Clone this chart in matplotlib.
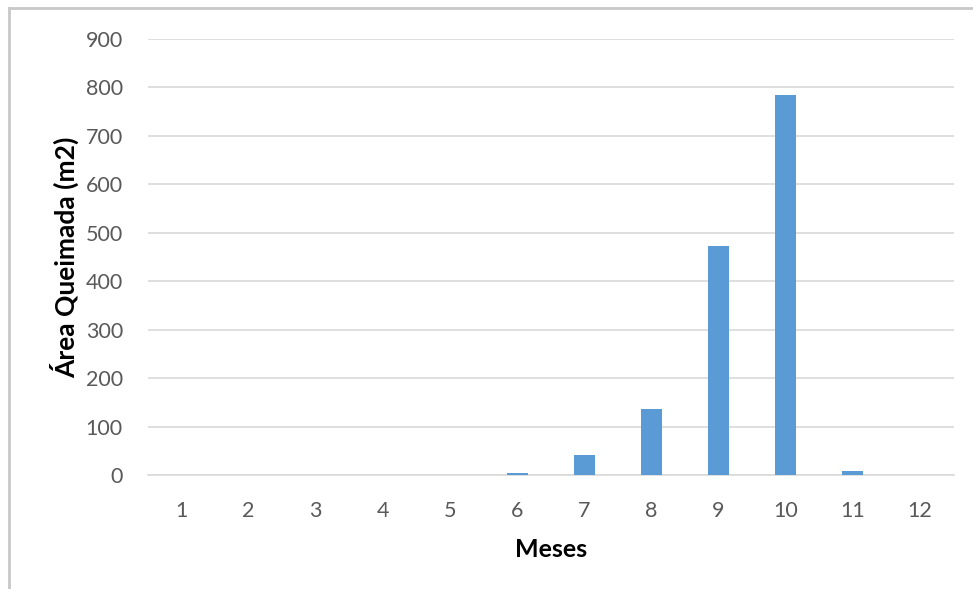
import matplotlib.pyplot as plt
from matplotlib.lines import Line2D

meses = [1, 2, 3, 4, 5, 6, 7, 8, 9, 10, 11, 12]
area_queimada = [0, 0, 0, 0, 0, 4, 41, 136, 473, 785, 9, 0]
y_ticks = [0, 100, 200, 300, 400, 500, 600, 700, 800, 900]

plt.rcParams['font.family'] = ['Lato', 'DejaVu Sans']

fig = plt.figure(figsize=(9.73, 5.89), dpi=100)
ax = fig.add_axes([0.152, 0.1935, 0.828, 0.7405])

x = list(range(len(meses)))
ax.bar(x, area_queimada, width=0.31, color='#5b9bd5', zorder=3)

ax.set_xlim(-0.5, len(meses) - 0.5)
ax.set_ylim(0, 900)
ax.set_yticks(y_ticks)
ax.set_yticklabels([str(v) for v in y_ticks])
ax.set_xticks(x)
ax.set_xticklabels([str(m) for m in meses])
ax.grid(axis='y', color='#d9d9d9', linewidth=1.2, zorder=0)
for s in ['top', 'right', 'left']:
    ax.spines[s].set_visible(False)
ax.spines['bottom'].set_color('#d9d9d9')
ax.spines['bottom'].set_linewidth(1.2)
ax.tick_params(axis='both', length=0, labelsize=15.5, labelcolor='#595959')
ax.tick_params(axis='y', pad=18)
ax.tick_params(axis='x', pad=19)

ax.set_xlabel('Meses', fontsize=18, fontweight='bold', labelpad=12)
ax.set_ylabel('Área Queimada (m2)', fontsize=19, fontweight='bold', labelpad=5)

# chart area frame (top and left edges)
fig.add_artist(Line2D([9/973, 9/973], [0, 1 - 8/589], transform=fig.transFigure,
                      color='#c8c8c8', linewidth=2))
fig.add_artist(Line2D([9/973, 1], [1 - 8/589, 1 - 8/589], transform=fig.transFigure,
                      color='#c8c8c8', linewidth=2))

fig.savefig('out.png', dpi=100)
